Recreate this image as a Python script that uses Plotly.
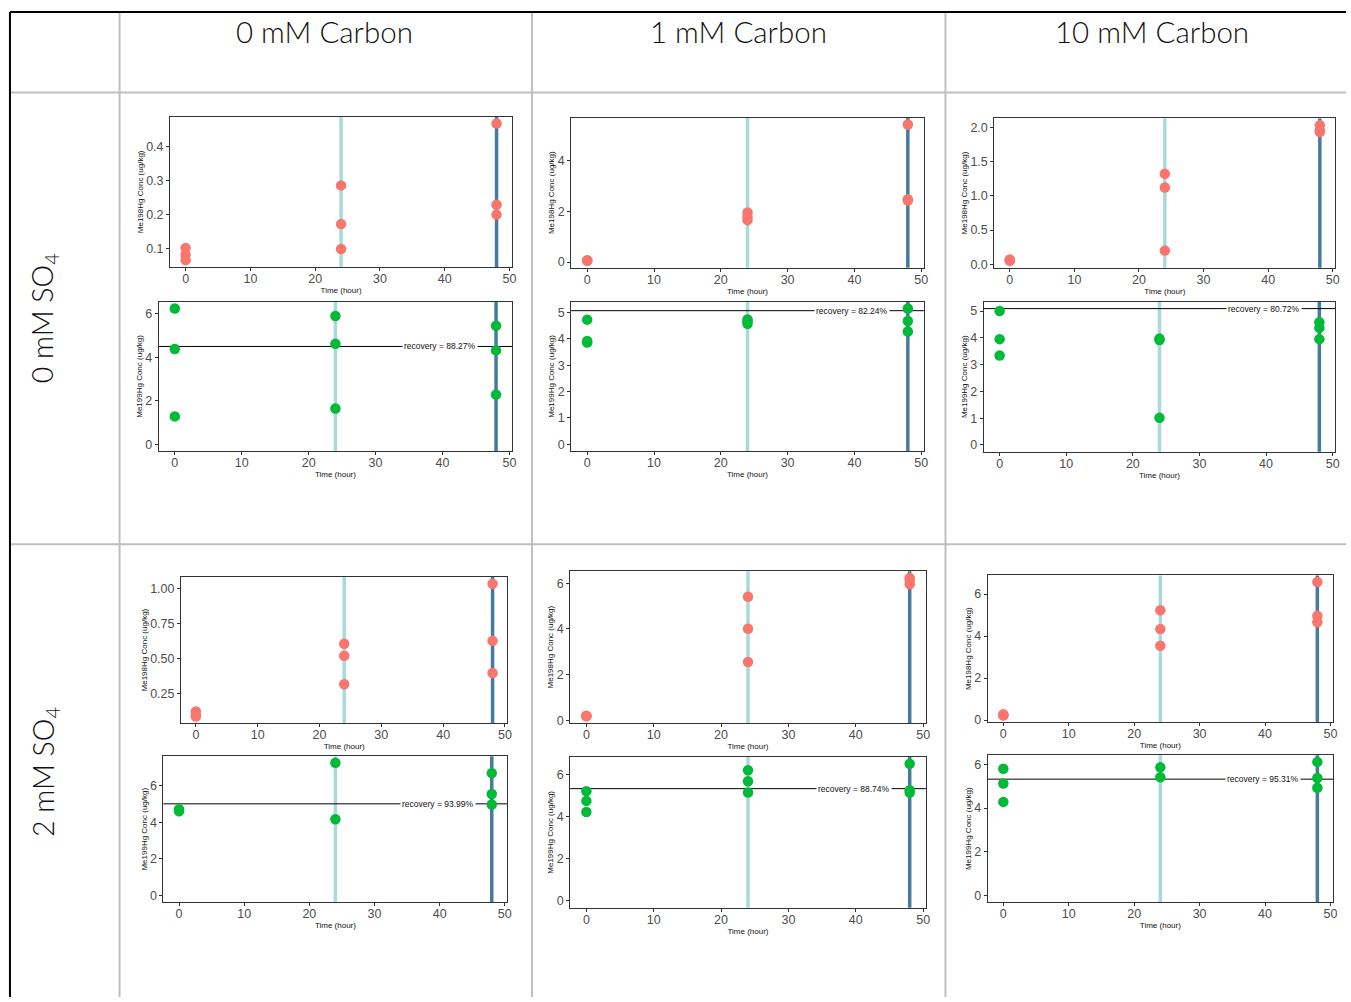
import plotly.graph_objects as go

W, H = 1351, 1002

# ---- data -------------------------------------------------------------
COLUMN_LABELS = ["0 mM Carbon", "1 mM Carbon", "10 mM Carbon"]
ROW_LABELS = ["0 mM SO<sub>4</sub>", "2 mM SO<sub>4</sub>"]

HOURS = [0, 0, 0, 24, 24, 24, 48, 48, 48]
HOURS_S2_C0_199 = [0, 0, 24, 24, 48, 48, 48]
HOURS_S2_C10_199 = [0, 0, 0, 24, 24, 48, 48, 48]

# Me198Hg (methylated product)
me198_so4_0_c0 = [0.103, 0.083, 0.067, 0.287, 0.173, 0.100, 0.469, 0.230, 0.201]
me198_so4_0_c1 = [0.07, 0.06, 0.05, 1.95, 1.78, 1.65, 5.41, 2.47, 2.42]
me198_so4_0_c10 = [0.07, 0.06, 0.05, 1.32, 1.12, 0.20, 2.03, 1.96, 1.93]
me198_so4_2_c0 = [0.12, 0.10, 0.085, 0.605, 0.520, 0.316, 1.035, 0.626, 0.396]
me198_so4_2_c1 = [0.20, 0.19, 0.18, 5.41, 4.01, 2.55, 6.23, 6.15, 5.96]
me198_so4_2_c10 = [0.27, 0.24, 0.22, 5.23, 4.33, 3.54, 6.57, 4.97, 4.66]

# Me199Hg (spike)
me199_so4_0_c0 = [6.23, 4.37, 1.28, 5.89, 4.61, 1.64, 5.44, 4.31, 2.28]
me199_so4_0_c1 = [4.73, 3.92, 3.86, 4.74, 4.66, 4.57, 5.15, 4.68, 4.28]
me199_so4_0_c10 = [5.00, 3.95, 3.34, 3.97, 3.92, 1.01, 4.58, 4.37, 3.95]
me199_so4_2_c0 = [4.72, 4.61, 7.25, 4.17, 6.69, 5.55, 4.97]
me199_so4_2_c1 = [5.20, 4.74, 4.21, 6.19, 5.67, 5.14, 6.50, 5.25, 5.14]
me199_so4_2_c10 = [5.80, 5.12, 4.28, 5.86, 5.41, 6.11, 5.37, 4.93]

# recovery reference level and percentage for each Me199Hg panel
recovery_level = [4.49, 5.07, 5.09, 5.01, 5.32, 5.32]
recovery_pct = ["88.27%", "82.24%", "80.72%", "93.99%", "88.74%", "95.31%"]

SAMPLING_HOURS = [24, 48]
X_TICKS = [0, 10, 20, 30, 40, 50]

Y_TICKS_198 = [
    [0.1, 0.2, 0.3, 0.4],
    [0, 2, 4],
    [0.0, 0.5, 1.0, 1.5, 2.0],
    [0.25, 0.50, 0.75, 1.00],
    [0, 2, 4, 6],
    [0, 2, 4, 6],
]
Y_TICKTEXT_198 = [
    ["0.1", "0.2", "0.3", "0.4"],
    ["0", "2", "4"],
    ["0.0", "0.5", "1.0", "1.5", "2.0"],
    ["0.25", "0.50", "0.75", "1.00"],
    ["0", "2", "4", "6"],
    ["0", "2", "4", "6"],
]
Y_TICKS_199 = [
    [0, 2, 4, 6],
    [0, 1, 2, 3, 4, 5],
    [0, 1, 2, 3, 4, 5],
    [0, 2, 4, 6],
    [0, 2, 4, 6],
    [0, 2, 4, 6],
]

# ---- styling ----------------------------------------------------------
RED = "#F8766D"
GREEN = "#00BA38"
LIGHT_LINE = "#A8DADC"
DARK_LINE = "#457B9D"
GRID_GRAY = "#BFBFBF"
FONT = "Liberation Sans, Arial, sans-serif"
HEAD_FONT = "Lato, Noto Sans, sans-serif"

# plot-area boxes in pixels: (left, right, top, bottom)
BOX_198 = [
    (170.7, 514.0, 117.3, 268.3),
    (573.3, 927.3, 118.3, 269.0),
    (998.0, 1340.3, 119.0, 269.0),
    (181.7, 509.3, 580.0, 726.7),
    (572.3, 929.3, 574.0, 726.7),
    (991.3, 1338.0, 578.3, 725.7),
]
BOX_199 = [
    (159.3, 514.0, 303.3, 453.3),
    (573.3, 927.3, 303.3, 453.3),
    (987.3, 1340.3, 303.3, 454.0),
    (164.0, 509.3, 760.0, 906.7),
    (572.3, 929.3, 760.7, 912.3),
    (991.3, 1338.0, 759.0, 906.7),
]


def xdom(l, r):
    return [l / W, r / W]


def ydom(t, b):
    return [1 - b / H, 1 - t / H]


def padded(lo, hi, frac=0.05):
    span = hi - lo
    return [lo - frac * span, hi + frac * span]


fig = go.Figure()
layout = {}
shapes = []
annotations = []

panels_198 = [
    (HOURS, me198_so4_0_c0),
    (HOURS, me198_so4_0_c1),
    (HOURS, me198_so4_0_c10),
    (HOURS, me198_so4_2_c0),
    (HOURS, me198_so4_2_c1),
    (HOURS, me198_so4_2_c10),
]
panels_199 = [
    (HOURS, me199_so4_0_c0),
    (HOURS, me199_so4_0_c1),
    (HOURS, me199_so4_0_c10),
    (HOURS_S2_C0_199, me199_so4_2_c0),
    (HOURS, me199_so4_2_c1),
    (HOURS_S2_C10_199, me199_so4_2_c10),
]

x_range = padded(0, 48)

axis_common = dict(
    showline=True, mirror=True, linecolor="#333333", linewidth=1,
    ticks="outside", ticklen=3, tickwidth=1, tickcolor="#333333",
    showgrid=False, zeroline=False,
    tickfont=dict(family=FONT, size=12.5, color="#4D4D4D"),
    fixedrange=True,
)


def add_panel(idx, times, vals, color, box, yticks, yticktext, ytitle, hline=None, pct=None):
    ax = "" if idx == 1 else str(idx)
    xa, ya = "x" + ax, "y" + ax
    fig.add_trace(go.Scatter(
        x=times, y=vals, mode="markers", xaxis=xa, yaxis=ya,
        marker=dict(color=color, size=10.5, line=dict(width=0)),
        showlegend=False, hoverinfo="x+y",
    ))
    l, r, t, b = box
    if hline is None:
        yr = padded(min(vals), max(vals))
    else:
        yr = padded(min(0, min(vals)), max(max(vals), hline))
    layout["xaxis" + ax] = dict(
        axis_common, domain=xdom(l, r), anchor=ya, range=x_range,
        tickvals=X_TICKS, ticklabelstandoff=-3,
        title=dict(text="Time (hour)", standoff=0,
                   font=dict(family=FONT, size=8, color="#111111")),
    )
    layout["yaxis" + ax] = dict(
        axis_common, domain=ydom(t, b), anchor=xa, range=yr,
        tickvals=yticks, ticktext=yticktext,
        title=dict(text=ytitle, standoff=1,
                   font=dict(family=FONT, size=8, color="#111111")),
    )
    for hr, col in zip(SAMPLING_HOURS, [LIGHT_LINE, DARK_LINE]):
        shapes.append(dict(type="line", xref=xa, yref=ya + " domain",
                           x0=hr, x1=hr, y0=0, y1=1, layer="below",
                           line=dict(color=col, width=3.5)))
    if hline is not None:
        shapes.append(dict(type="line", xref=xa + " domain", yref=ya,
                           x0=0, x1=1, y0=hline, y1=hline, layer="below",
                           line=dict(color="#000000", width=1)))
        annotations.append(dict(
            xref=xa, yref=ya, x=39.7, y=hline, text="recovery = " + pct,
            showarrow=False, bgcolor="#FFFFFF", borderpad=1,
            font=dict(family=FONT, size=8.5, color="#111111"),
        ))


idx = 1
for i in range(6):
    times, vals = panels_198[i]
    add_panel(idx, times, vals, RED, BOX_198[i], Y_TICKS_198[i],
              Y_TICKTEXT_198[i], "Me198Hg Conc (ug/kg)")
    idx += 1
    times, vals = panels_199[i]
    add_panel(idx, times, vals, GREEN, BOX_199[i], Y_TICKS_199[i],
              [str(v) for v in Y_TICKS_199[i]], "Me199Hg Conc (ug/kg)",
              hline=recovery_level[i], pct=recovery_pct[i])
    idx += 1

# ---- table frame ------------------------------------------------------
def px_line(x0, y0, x1, y1, color, width):
    shapes.append(dict(type="line", xref="paper", yref="paper",
                       x0=x0 / W, x1=x1 / W, y0=1 - y0 / H, y1=1 - y1 / H,
                       line=dict(color=color, width=width), layer="above"))


for xc in [120, 534, 949]:
    px_line(xc, 12, xc, H, GRID_GRAY, 2)
for yr_ in [93, 547]:
    px_line(10, yr_, W, yr_, GRID_GRAY, 2)
px_line(10, 12, W, 12, "#000000", 2)
px_line(10, 12, 10, H, "#000000", 2)

col_centers = [326, 741, 1156]
for cx, txt in zip(col_centers, COLUMN_LABELS):
    annotations.append(dict(xref="paper", yref="paper", x=cx / W, y=1 - 32 / H,
                            text=txt, showarrow=False, xanchor="center", yanchor="middle",
                            font=dict(family=HEAD_FONT, size=29.5, color="#111111",
                                      weight=300)))
row_centers = [320, 776]
for cy, txt in zip(row_centers, ROW_LABELS):
    annotations.append(dict(xref="paper", yref="paper", x=45 / W, y=1 - cy / H,
                            text=txt, showarrow=False, textangle=-90,
                            xanchor="center", yanchor="middle",
                            font=dict(family=HEAD_FONT, size=28.5, color="#111111",
                                      weight=300)))

fig.update_layout(
    width=W, height=H, margin=dict(l=0, r=0, t=0, b=0),
    paper_bgcolor="#FFFFFF", plot_bgcolor="#FFFFFF",
    shapes=shapes, annotations=annotations, showlegend=False,
    **layout,
)

# keep the page edge-to-edge so the figure is shown at its full size
fig.write_html(
    "out.html",
    post_script="document.body.style.margin='0';document.body.style.overflow='hidden';",
)
